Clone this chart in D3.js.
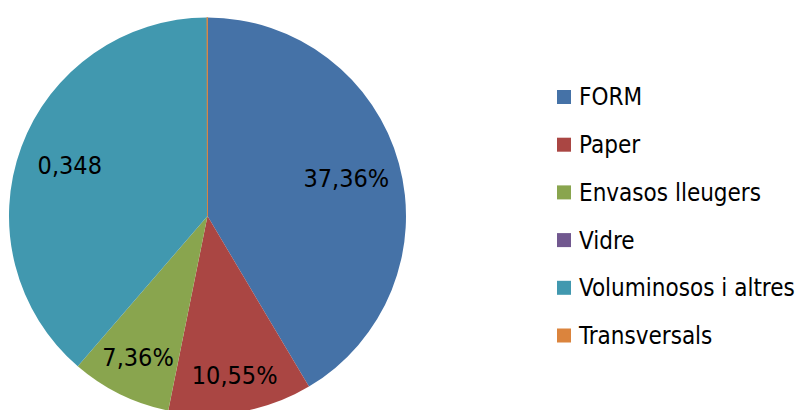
<!DOCTYPE html>
<html>
<head>
<meta charset="utf-8">
<script src="https://cdn.jsdelivr.net/npm/d3@7"></script>
<style>
  body { margin: 0; background: #fff; }
  svg text { font-family: "DejaVu Sans Condensed", sans-serif; }
</style>
</head>
<body>
<svg id="chart" width="800" height="410"></svg>
<script>
// data
var categories = ["FORM", "Paper", "Envasos lleugers", "Vidre", "Voluminosos i altres", "Transversals"];
var values = [0.3736, 0.1055, 0.0736, 0, 0.348, 0.0004];
var labels = ["37,36%", "10,55%", "7,36%", "", "0,348", ""];
var colors = ["#4572A7", "#AA4643", "#89A54E", "#71588F", "#4198AF", "#DB843D"];
// label distance from centre, as share of radius (Excel best fit)
var labelPos = [0.725, 0.815, 0.795, 0.7, 0.74, 0.7];

var svg = d3.select("#chart");
var cx = 207.5, cy = 216, radius = 198.5;

var pie = d3.pie().sort(null).value(function(d){ return d; });
var arcs = pie(values);
var arc = d3.arc().innerRadius(0).outerRadius(radius);

var g = svg.append("g")
    .attr("transform", "translate(" + cx + "," + cy + ")");

g.selectAll("path.slice")
    .data(arcs)
    .enter().append("path")
    .attr("class", "slice")
    .attr("d", arc)
    .attr("fill", function(d, i){ return colors[i]; })
    // the hairline Transversals slice shows as a thin orange edge
    .attr("stroke", function(d, i){ return i == 5 ? colors[i] : "none"; })
    .attr("stroke-width", 0.8);

g.selectAll("text.lbl")
    .data(arcs)
    .enter().append("text")
    .attr("class", "lbl")
    .attr("transform", function(d, i){
        var r = radius * labelPos[i];
        var c = d3.arc().innerRadius(r).outerRadius(r).centroid(d);
        return "translate(" + c + ")";
    })
    .attr("text-anchor", "middle")
    .attr("dy", "0.35em")
    .attr("font-size", "25px")
    .attr("fill", "#000")
    .text(function(d, i){ return labels[i]; });

// legend
var legend = svg.append("g").attr("transform", "translate(557,90)");
var rowH = 47.7;
var item = legend.selectAll("g.item")
    .data(categories)
    .enter().append("g")
    .attr("class", "item")
    .attr("transform", function(d, i){ return "translate(0," + (i * rowH) + ")"; });

item.append("rect")
    .attr("width", 14)
    .attr("height", 14)
    .attr("fill", function(d, i){ return colors[i]; });

item.append("text")
    .attr("x", 22)
    .attr("y", 7)
    .attr("dy", "0.35em")
    .attr("font-size", "24px")
    .attr("fill", "#000")
    .text(function(d){ return d; });
</script>
</body>
</html>
